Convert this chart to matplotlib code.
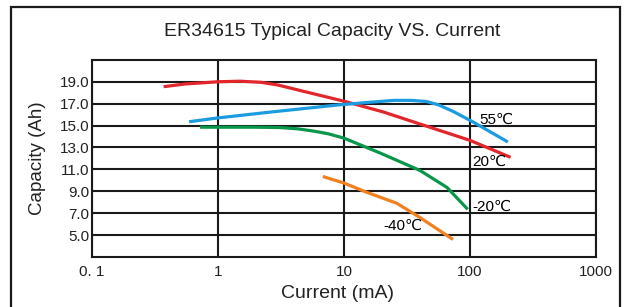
import matplotlib
matplotlib.use("Agg")
import matplotlib.pyplot as plt
from matplotlib.patches import Rectangle

plt.rcParams['font.family'] = ['Liberation Sans', 'DejaVu Sans']

# current (mA) / capacity (Ah)
cur_20 = [0.37, 0.55, 1.0, 1.5, 2.2, 3.0, 4.5, 6.5, 10.6, 20.4, 42.4, 100, 210]
cap_20 = [18.55, 18.8, 19.0, 19.05, 18.95, 18.7, 18.2, 17.75, 17.15, 16.25, 15.05, 13.65, 12.1]

cur_55 = [0.59, 1.0, 2.7, 9.3, 17.0, 25.0, 34.0, 45.0, 56.0, 73.3, 105, 200]
cap_55 = [15.35, 15.7, 16.25, 16.9, 17.15, 17.3, 17.3, 17.2, 16.9, 16.3, 15.35, 13.5]

cur_m20 = [0.72, 2.0, 3.1, 4.3, 5.7, 7.5, 10, 19.3, 40.1, 65.7, 96]
cap_m20 = [14.85, 14.85, 14.82, 14.7, 14.5, 14.25, 13.85, 12.5, 10.9, 9.35, 7.35]

cur_m40 = [6.8, 10, 15.2, 26.3, 40.1, 73.3]
cap_m40 = [10.35, 9.75, 8.9, 7.9, 6.6, 4.6]

xticks = [0.1, 1, 10, 100, 1000]
xticklabels = ["0. 1", "1", "10", "100", "1000"]
yticks = [5.0, 7.0, 9.0, 11.0, 13.0, 15.0, 17.0, 19.0]

fig = plt.figure(figsize=(6.26, 3.07), dpi=100)
fig.patches.append(Rectangle((11 / 626, -0.1), 609 / 626, 1.1 - 7 / 307,
                             transform=fig.transFigure, fill=False,
                             edgecolor="#1a1a1a", linewidth=1.6))

ax = fig.add_axes([0.147, 0.163, 0.805, 0.642])
ax.set_xscale("log")
ax.set_xlim(0.1, 1000)
ax.set_ylim(3, 21)

ax.plot(cur_20, cap_20, color="#e2262b", lw=2.3, solid_capstyle="butt")
ax.plot(cur_55, cap_55, color="#1d9be0", lw=2.3, solid_capstyle="butt")
ax.plot(cur_m20, cap_m20, color="#07964a", lw=2.3, solid_capstyle="butt")
ax.plot(cur_m40, cap_m40, color="#f08020", lw=2.3, solid_capstyle="butt")

ax.text(118, 15.5, "55℃", fontsize=11, va="center", ha="left")
ax.text(105, 11.65, "20℃", fontsize=11, va="center", ha="left")
ax.text(105, 7.6, "-20℃", fontsize=11, va="center", ha="left")
ax.text(20.4, 5.8, "-40℃", fontsize=11, va="center", ha="left")

ax.set_xticks(xticks)
ax.set_xticklabels(xticklabels)
ax.minorticks_off()
ax.set_yticks(yticks)
ax.set_yticklabels(["%.1f" % v for v in yticks])
ax.tick_params(length=0, labelsize=11, colors="#222222")
ax.tick_params(axis="x", pad=6)
ax.tick_params(axis="y", pad=2)
ax.grid(True, color="#1a1a1a", lw=1.5)
ax.set_axisbelow(True)
for s in ax.spines.values():
    s.set_linewidth(1.5)
    s.set_color("#1a1a1a")

ax.set_xlabel("Current (mA)", fontsize=14, color="#222222")
ax.xaxis.set_label_coords(0.488, -0.14)
ax.set_ylabel("Capacity (Ah)", fontsize=13.5, color="#222222")
ax.yaxis.set_label_coords(-0.092, 0.5)
fig.text(0.531, 1 - 32 / 307, "ER34615 Typical Capacity VS. Current",
         fontsize=14, ha="center", va="center", color="#222222")

fig.savefig("out.png", dpi=100)
